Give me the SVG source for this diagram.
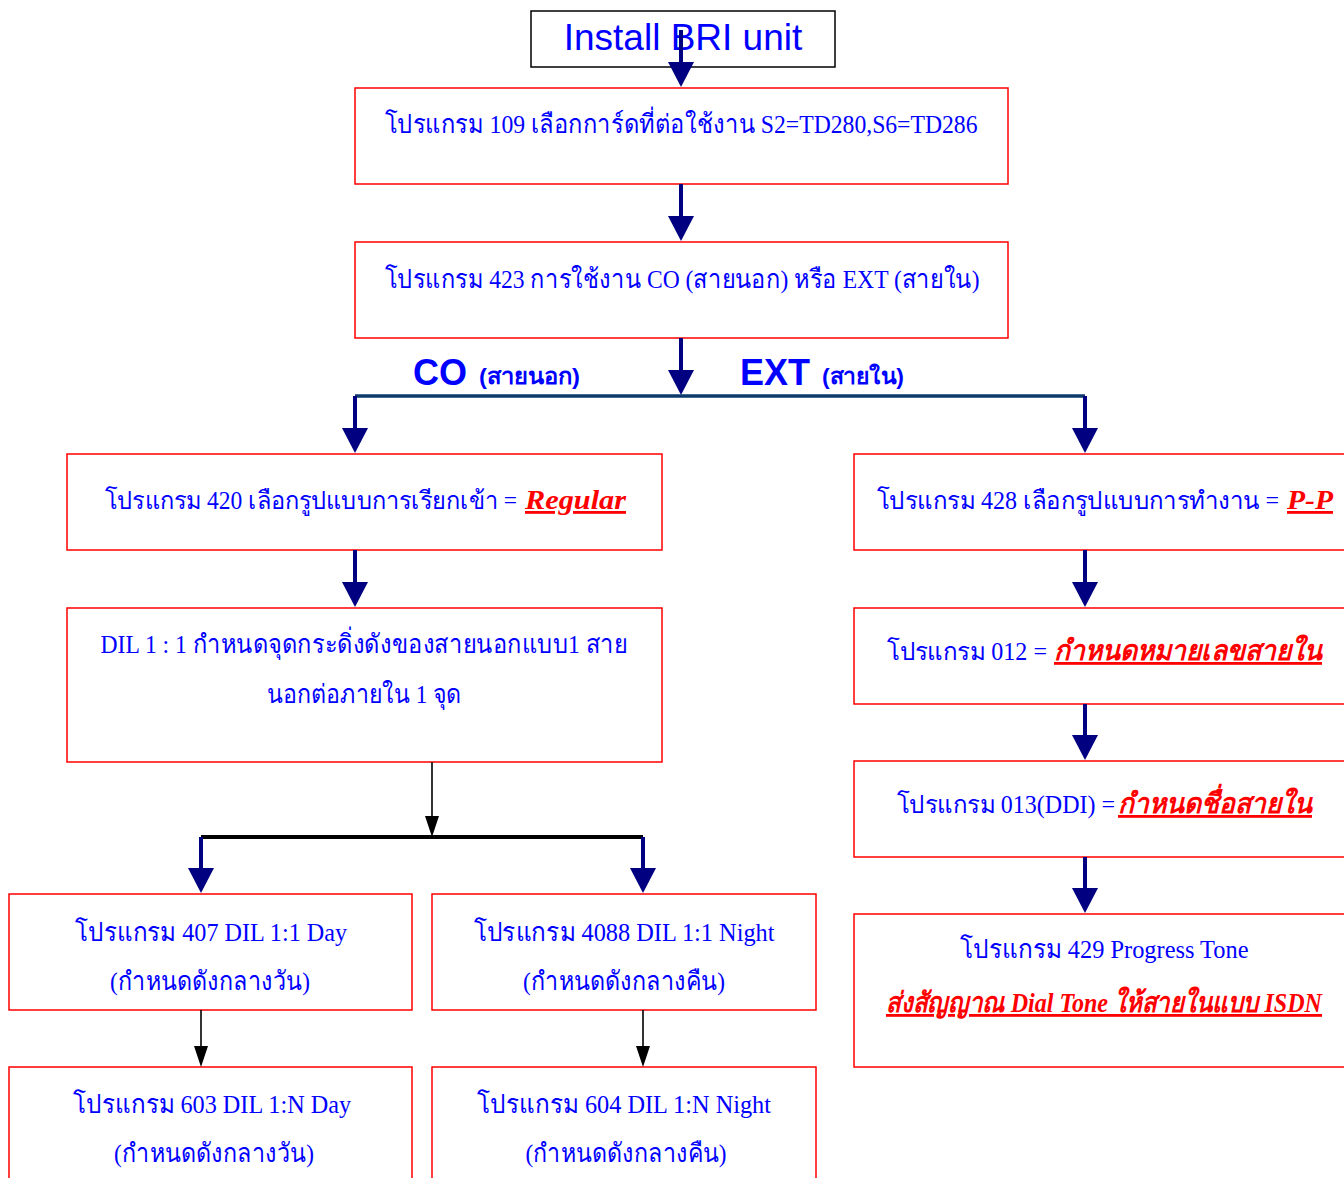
<svg xmlns="http://www.w3.org/2000/svg" width="1344" height="1178" viewBox="0 0 1344 1178">
  <style>
    .box { fill: #ffffff; stroke: #ff0000; stroke-width: 1.5; }
    .start { fill: #ffffff; stroke: #000000; stroke-width: 1.5; }
    .t { font-family: "Liberation Serif", "Noto Sans", serif; font-size: 26px; fill: #0000ff; text-anchor: middle; }
    .ts { font-family: "Liberation Serif", "Noto Sans", serif; font-size: 25px; fill: #0000ff; }
    .em { font-family: "Liberation Serif", "Noto Sans", serif; font-size: 28px; fill: #ff0000; font-weight: bold; font-style: italic; text-decoration: underline; }
    .head { font-family: "Liberation Sans", Arial, sans-serif; fill: #0000ff; }
    .navy { stroke: #000080; stroke-width: 4; fill: none; }
    .thin { stroke: #000000; stroke-width: 1.6; fill: none; }
  </style>
  <defs>
    <marker id="ahNavy" viewBox="0 0 25 26" refX="0" refY="13" markerWidth="25" markerHeight="26" markerUnits="userSpaceOnUse" orient="auto">
      <path d="M0,0 L25,13 L0,26 Z" fill="#000080"/>
    </marker>
    <marker id="ahBlack" viewBox="0 0 21 14" refX="0" refY="7" markerWidth="21" markerHeight="14" markerUnits="userSpaceOnUse" orient="auto">
      <path d="M0,0 L21,7 L0,14 Z" fill="#000000"/>
    </marker>
  </defs>

  <!-- start node -->
  <g id="install">
    <rect class="start" x="531" y="11" width="304" height="56"/>
    <text class="head" x="683" y="50" font-size="37" text-anchor="middle">Install BRI unit</text>
  </g>

  <g id="p109">
    <rect class="box" x="355" y="88" width="653" height="96"/>
    <text class="t" x="681" y="133" textLength="593" lengthAdjust="spacingAndGlyphs">โปรแกรม 109 เลือกการ์ดที่ต่อใช้งาน S2=TD280,S6=TD286</text>
  </g>

  <g id="p423">
    <rect class="box" x="355" y="242" width="653" height="96"/>
    <text class="t" x="682" y="288" textLength="595" lengthAdjust="spacingAndGlyphs">โปรแกรม 423 การใช้งาน CO (สายนอก) หรือ EXT (สายใน)</text>
  </g>

  <!-- branch labels -->
  <g id="branch-labels">
    <text class="head" x="413" y="385" font-size="36" font-weight="bold">CO</text>
    <text class="head" x="479" y="384" font-size="22" font-weight="bold" textLength="101" lengthAdjust="spacingAndGlyphs">(สายนอก)</text>
    <text class="head" x="740" y="385" font-size="36" font-weight="bold">EXT</text>
    <text class="head" x="822" y="384" font-size="22" font-weight="bold" textLength="82" lengthAdjust="spacingAndGlyphs">(สายใน)</text>
  </g>

  <g id="p420">
    <rect class="box" x="67" y="454" width="595" height="96"/>
    <text class="ts" x="105" y="509" textLength="412" lengthAdjust="spacingAndGlyphs">โปรแกรม 420 เลือกรูปแบบการเรียกเข้า =</text>
    <text class="em" x="525" y="509" textLength="101" lengthAdjust="spacingAndGlyphs">Regular</text>
  </g>

  <g id="dil11">
    <rect class="box" x="67" y="608" width="595" height="154"/>
    <text class="t" x="364" y="653" textLength="527" lengthAdjust="spacingAndGlyphs">DIL 1 : 1 กำหนดจุดกระดิ่งดังของสายนอกแบบ1 สาย</text>
    <text class="t" x="364" y="703" textLength="195" lengthAdjust="spacingAndGlyphs">นอกต่อภายใน 1 จุด</text>
  </g>

  <g id="p428">
    <rect class="box" x="854" y="454" width="500" height="96"/>
    <text class="ts" x="877" y="509" textLength="402" lengthAdjust="spacingAndGlyphs">โปรแกรม 428 เลือกรูปแบบการทำงาน =</text>
    <text class="em" x="1287" y="509" textLength="46" lengthAdjust="spacingAndGlyphs">P-P</text>
  </g>

  <g id="p012">
    <rect class="box" x="854" y="608" width="500" height="96"/>
    <text class="ts" x="887" y="660" textLength="160" lengthAdjust="spacingAndGlyphs">โปรแกรม 012 =</text>
    <text class="em" x="1054" y="660" textLength="268" lengthAdjust="spacingAndGlyphs">กำหนดหมายเลขสายใน</text>
  </g>

  <g id="p013">
    <rect class="box" x="854" y="761" width="500" height="96"/>
    <text class="ts" x="897" y="813" textLength="218" lengthAdjust="spacingAndGlyphs">โปรแกรม 013(DDI) =</text>
    <text class="em" x="1118" y="813" textLength="194" lengthAdjust="spacingAndGlyphs">กำหนดชื่อสายใน</text>
  </g>

  <g id="p429">
    <rect class="box" x="854" y="914" width="500" height="153"/>
    <text class="t" x="1104" y="958" textLength="289" lengthAdjust="spacingAndGlyphs">โปรแกรม 429 Progress Tone</text>
    <text class="em" x="886" y="1012" font-size="25" textLength="436" lengthAdjust="spacingAndGlyphs">ส่งสัญญาณ Dial Tone ให้สายในแบบ ISDN</text>
  </g>

  <g id="p407">
    <rect class="box" x="9" y="894" width="403" height="116"/>
    <text class="t" x="211" y="941" textLength="272" lengthAdjust="spacingAndGlyphs">โปรแกรม 407 DIL 1:1 Day</text>
    <text class="t" x="210" y="990" textLength="200" lengthAdjust="spacingAndGlyphs">(กำหนดดังกลางวัน)</text>
  </g>

  <g id="p4088">
    <rect class="box" x="432" y="894" width="384" height="116"/>
    <text class="t" x="624" y="941" textLength="301" lengthAdjust="spacingAndGlyphs">โปรแกรม 4088 DIL 1:1 Night</text>
    <text class="t" x="624" y="990" textLength="202" lengthAdjust="spacingAndGlyphs">(กำหนดดังกลางคืน)</text>
  </g>

  <g id="p603">
    <rect class="box" x="9" y="1067" width="403" height="130"/>
    <text class="t" x="212" y="1113" textLength="278" lengthAdjust="spacingAndGlyphs">โปรแกรม 603 DIL 1:N Day</text>
    <text class="t" x="214" y="1162" textLength="200" lengthAdjust="spacingAndGlyphs">(กำหนดดังกลางวัน)</text>
  </g>

  <g id="p604">
    <rect class="box" x="432" y="1067" width="384" height="130"/>
    <text class="t" x="624" y="1113" textLength="294" lengthAdjust="spacingAndGlyphs">โปรแกรม 604 DIL 1:N Night</text>
    <text class="t" x="626" y="1162" textLength="201" lengthAdjust="spacingAndGlyphs">(กำหนดดังกลางคืน)</text>
  </g>

  <!-- connectors -->
  <g id="connectors">
    <line class="navy" x1="681" y1="30" x2="681" y2="62" marker-end="url(#ahNavy)"/>
    <line class="navy" x1="681" y1="184" x2="681" y2="216" marker-end="url(#ahNavy)"/>
    <line class="navy" x1="681" y1="338" x2="681" y2="370" marker-end="url(#ahNavy)"/>
    <line x1="355" y1="396" x2="1085" y2="396" stroke="#0b3a6b" stroke-width="3.5"/>
    <line class="navy" x1="355" y1="396" x2="355" y2="428" marker-end="url(#ahNavy)"/>
    <line class="navy" x1="1085" y1="396" x2="1085" y2="428" marker-end="url(#ahNavy)"/>
    <line class="navy" x1="355" y1="550" x2="355" y2="582" marker-end="url(#ahNavy)"/>
    <line class="navy" x1="1085" y1="550" x2="1085" y2="582" marker-end="url(#ahNavy)"/>
    <line class="navy" x1="1085" y1="704" x2="1085" y2="735" marker-end="url(#ahNavy)"/>
    <line class="navy" x1="1085" y1="857" x2="1085" y2="888" marker-end="url(#ahNavy)"/>
    <line class="thin" x1="432" y1="762" x2="432" y2="816" marker-end="url(#ahBlack)"/>
    <line x1="201" y1="837" x2="643" y2="837" stroke="#000000" stroke-width="4"/>
    <line class="navy" x1="201" y1="837" x2="201" y2="868" marker-end="url(#ahNavy)"/>
    <line class="navy" x1="643" y1="837" x2="643" y2="868" marker-end="url(#ahNavy)"/>
    <line class="thin" x1="201" y1="1010" x2="201" y2="1046" marker-end="url(#ahBlack)"/>
    <line class="thin" x1="643" y1="1010" x2="643" y2="1046" marker-end="url(#ahBlack)"/>
  </g>
</svg>
